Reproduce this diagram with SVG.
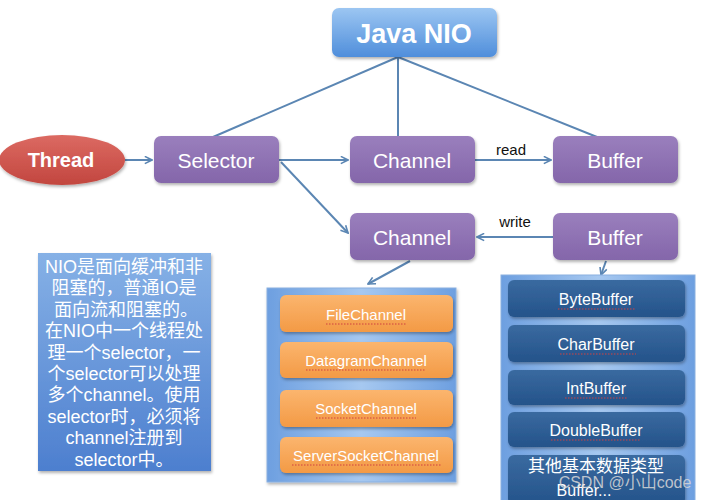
<svg xmlns="http://www.w3.org/2000/svg" width="703" height="500" viewBox="0 0 703 500">
<defs>
<linearGradient id="gBlue" x1="0" y1="0" x2="0" y2="1"><stop offset="0" stop-color="#9cc6f2"/><stop offset="1" stop-color="#4f8edb"/></linearGradient>
<linearGradient id="gPurple" x1="0" y1="0" x2="0" y2="1"><stop offset="0" stop-color="#9a7fbd"/><stop offset="1" stop-color="#8466aa"/></linearGradient>
<linearGradient id="gRed" x1="0" y1="0" x2="0" y2="1"><stop offset="0" stop-color="#dc6a62"/><stop offset="1" stop-color="#c2463f"/></linearGradient>
<linearGradient id="gNote" x1="0" y1="0" x2="0" y2="1"><stop offset="0" stop-color="#86b1e6"/><stop offset="1" stop-color="#4d7fcf"/></linearGradient>
<linearGradient id="gCont" x1="0" y1="0" x2="1" y2="0"><stop offset="0" stop-color="#6d9fe0"/><stop offset="0.5" stop-color="#a6c8f0"/><stop offset="1" stop-color="#6d9fe0"/></linearGradient>
<linearGradient id="gOrange" x1="0" y1="0" x2="0" y2="1"><stop offset="0" stop-color="#fbb56e"/><stop offset="1" stop-color="#f39a45"/></linearGradient>
<linearGradient id="gDark" x1="0" y1="0" x2="0" y2="1"><stop offset="0" stop-color="#3a6aa0"/><stop offset="1" stop-color="#24538a"/></linearGradient>
<filter id="sh" x="-10%" y="-10%" width="125%" height="135%"><feDropShadow dx="1" dy="2" stdDeviation="1.5" flood-color="#000" flood-opacity="0.3"/></filter>
<marker id="arr" viewBox="0 0 10 10" refX="9" refY="5" markerWidth="9" markerHeight="9" markerUnits="userSpaceOnUse" orient="auto"><path d="M1,1 L9,5 L1,9" fill="none" stroke="#5b86b3" stroke-width="1.8"/></marker>
</defs>
<style>
.ln{stroke:#5b86b3;stroke-width:2;fill:none}
.pn{fill:url(#gPurple);filter:url(#sh)}
.pt{font-family:"Liberation Sans",Arial,sans-serif;font-size:21px;fill:#ffffff;text-anchor:middle}
.lb{font-family:"Liberation Sans",Arial,sans-serif;font-size:15px;fill:#111111;text-anchor:middle}
.ot{font-family:"Liberation Sans",Arial,sans-serif;font-size:15px;fill:#ffffff;text-anchor:middle}
.bt{font-family:"Liberation Sans",Arial,sans-serif;font-size:16px;fill:#ffffff;text-anchor:middle}
.nt{font-family:"Liberation Sans","Noto Sans CJK SC",sans-serif;font-size:18px;fill:#ffffff;text-anchor:middle}
.sq{stroke:#d04040;stroke-width:1;stroke-dasharray:1.5 1.5;fill:none}
.oi{fill:url(#gOrange);filter:url(#sh)}
.di{fill:url(#gDark);filter:url(#sh)}
</style>
<rect width="703" height="500" fill="#ffffff"/>

<g id="connectors">
<line class="ln" x1="398" y1="57" x2="213" y2="137"/>
<line class="ln" x1="398" y1="57" x2="398" y2="137"/>
<line class="ln" x1="398" y1="57" x2="597" y2="137"/>
<line class="ln" x1="125" y1="160" x2="152" y2="160" marker-end="url(#arr)"/>
<line class="ln" x1="279" y1="160" x2="348" y2="160" marker-end="url(#arr)"/>
<line class="ln" x1="475" y1="160" x2="551" y2="160" marker-end="url(#arr)"/>
<line class="ln" x1="553" y1="237" x2="477" y2="237" marker-end="url(#arr)"/>
<line class="ln" x1="281" y1="162" x2="348" y2="233" marker-end="url(#arr)"/>
<line class="ln" x1="410" y1="261" x2="368" y2="284" marker-end="url(#arr)"/>
<line class="ln" x1="606" y1="261" x2="601" y2="275" marker-end="url(#arr)"/>
</g>

<g id="java-nio">
<rect x="332" y="8" width="165" height="49" rx="7" fill="url(#gBlue)" filter="url(#sh)"/>
<text x="414" y="43" font-family="'Liberation Sans',Arial,sans-serif" font-size="27" font-weight="bold" fill="#ffffff" text-anchor="middle">Java NIO</text>
</g>

<g id="thread">
<ellipse cx="62" cy="160" rx="63" ry="25" fill="url(#gRed)" filter="url(#sh)"/>
<text x="61" y="167" font-family="'Liberation Sans',Arial,sans-serif" font-size="20" font-weight="bold" fill="#ffffff" text-anchor="middle">Thread</text>
</g>

<g id="selector">
<rect class="pn" x="154" y="136" width="125" height="47" rx="7"/>
<text class="pt" x="216" y="168">Selector</text>
</g>

<g id="channel-top">
<rect class="pn" x="350" y="136" width="125" height="47" rx="7"/>
<text class="pt" x="412" y="168">Channel</text>
</g>

<g id="buffer-top">
<rect class="pn" x="553" y="136" width="125" height="47" rx="7"/>
<text class="pt" x="615" y="168">Buffer</text>
</g>

<g id="channel-bottom">
<rect class="pn" x="350" y="213" width="125" height="47" rx="7"/>
<text class="pt" x="412" y="245">Channel</text>
</g>

<g id="buffer-bottom">
<rect class="pn" x="553" y="213" width="125" height="47" rx="7"/>
<text class="pt" x="615" y="245">Buffer</text>
</g>

<g id="labels">
<text class="lb" x="511" y="155">read</text>
<text class="lb" x="515" y="227">write</text>
</g>

<g id="note">
<rect x="38" y="253" width="173" height="218" fill="url(#gNote)" filter="url(#sh)"/>
<text class="nt" x="124" y="273">NIO是面向缓冲和非</text>
<text class="nt" x="124" y="294">阻塞的，普通IO是</text>
<text class="nt" x="126" y="316">面向流和阻塞的。</text>
<text class="nt" x="124" y="337">在NIO中一个线程处</text>
<text class="nt" x="124" y="359">理一个selector，一</text>
<text class="nt" x="124" y="380">个selector可以处理</text>
<text class="nt" x="124" y="401">多个channel。使用</text>
<text class="nt" x="124" y="423">selector时，必须将</text>
<text class="nt" x="124" y="444">channel注册到</text>
<text class="nt" x="124" y="466">selector中。</text>
</g>

<g id="channel-types">
<rect x="267" y="288" width="189" height="194" fill="url(#gCont)" stroke="#8ab0e0" stroke-width="1" filter="url(#sh)"/>
<rect class="oi" x="280" y="295" width="173" height="37" rx="6"/>
<text class="ot" x="366" y="320">FileChannel</text>
<line class="sq" x1="326" y1="324" x2="406" y2="324"/>
<rect class="oi" x="280" y="342" width="173" height="36" rx="6"/>
<text class="ot" x="366" y="366">DatagramChannel</text>
<line class="sq" x1="306" y1="370" x2="426" y2="370"/>
<rect class="oi" x="280" y="390" width="173" height="37" rx="6"/>
<text class="ot" x="366" y="414">SocketChannel</text>
<line class="sq" x1="316" y1="418" x2="416" y2="418"/>
<rect class="oi" x="280" y="437" width="173" height="36" rx="6"/>
<text class="ot" x="366" y="461">ServerSocketChannel</text>
<line class="sq" x1="292" y1="465" x2="441" y2="465"/>
</g>

<g id="buffer-types">
<rect x="501" y="275" width="194" height="230" fill="url(#gCont)" stroke="#8ab0e0" stroke-width="1"/>
<rect class="di" x="508" y="280" width="177" height="37" rx="6"/>
<text class="bt" x="596" y="305">ByteBuffer</text>
<line class="sq" x1="558" y1="309" x2="636" y2="309"/>
<rect class="di" x="508" y="325" width="177" height="37" rx="6"/>
<text class="bt" x="596" y="350">CharBuffer</text>
<line class="sq" x1="560" y1="354" x2="636" y2="354"/>
<rect class="di" x="508" y="370" width="177" height="35" rx="6"/>
<text class="bt" x="596" y="394">IntBuffer</text>
<line class="sq" x1="565" y1="398" x2="628" y2="398"/>
<rect class="di" x="508" y="412" width="177" height="35" rx="6"/>
<text class="bt" x="596" y="436">DoubleBuffer</text>
<line class="sq" x1="551" y1="440" x2="641" y2="440"/>
<rect class="di" x="508" y="455" width="177" height="50" rx="6"/>
<text x="596" y="472" font-family="'Noto Sans CJK SC',sans-serif" font-size="17" fill="#ffffff" text-anchor="middle">其他基本数据类型</text>
<text class="bt" x="584" y="496">Buffer...</text>
</g>

<g id="watermark">
<text x="625" y="488" font-family="'Liberation Sans','Noto Sans CJK SC',sans-serif" font-size="16" fill="#d8d8d8" fill-opacity="0.85" text-anchor="middle">CSDN @小山code</text>
</g>
</svg>
